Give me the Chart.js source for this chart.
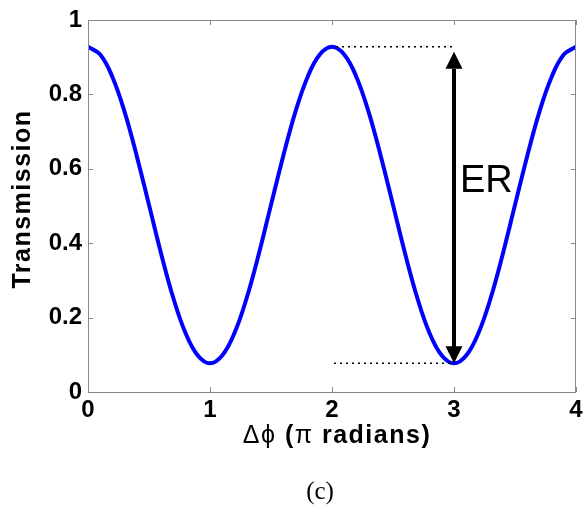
<!DOCTYPE html>
<html>
<head>
<meta charset="utf-8">
<script src="https://cdn.jsdelivr.net/npm/chart.js@4"></script>
<style>
  html, body { margin: 0; padding: 0; background: #fff; }
  #wrap { width: 585px; height: 506px; }
</style>
</head>
<body>
<div id="wrap"><canvas id="chart01" width="585" height="506"></canvas></div>
<script>
// phase difference in units of pi
const phase = [0, 0.1, 0.2, 0.3, 0.4, 0.5, 0.6, 0.7, 0.8, 0.9,
  1, 1.1, 1.2, 1.3, 1.4, 1.5, 1.6, 1.7, 1.8, 1.9,
  2, 2.1, 2.2, 2.3, 2.4, 2.5, 2.6, 2.7, 2.8, 2.9,
  3, 3.1, 3.2, 3.3, 3.4, 3.5, 3.6, 3.7, 3.8, 3.9, 4]
// transmission
const transmission = [0.928, 0.907, 0.847, 0.753, 0.634, 0.503, 0.371, 0.252, 0.158, 0.098,
  0.077, 0.098, 0.158, 0.252, 0.371, 0.503, 0.634, 0.753, 0.847, 0.907,
  0.928, 0.907, 0.847, 0.753, 0.634, 0.503, 0.371, 0.252, 0.158, 0.098,
  0.077, 0.098, 0.158, 0.252, 0.371, 0.503, 0.634, 0.753, 0.847, 0.907, 0.928]
const xTicks = [0, 1, 2, 3, 4]
const yTicks = [0, 0.2, 0.4, 0.6, 0.8, 1]
// extinction ratio marker: dotted guides from x=2 to x=3, arrow at x=3
const erFrom = 2, erAt = 3
const erMax = 0.928, erMin = 0.077

const ctx = document.getElementById('chart01').getContext('2d')
const SANS = '"Liberation Sans", Arial, sans-serif'

const boxPlugin = {
    id: 'box',
    afterDraw(chart) {
        const c = chart.ctx
        const a = chart.chartArea
        const xs = chart.scales.x, ys = chart.scales.y
        c.save()
        // frame
        c.strokeStyle = '#8a8a8a'
        c.lineWidth = 1
        c.strokeRect(a.left + 0.5, a.top + 0.5, a.right - a.left - 1, a.bottom - a.top)
        // inward ticks on all four sides
        c.beginPath()
        for (const t of xTicks) {
            const px = Math.round(xs.getPixelForValue(t)) + 0.5
            c.moveTo(px, a.bottom); c.lineTo(px, a.bottom - 5)
            c.moveTo(px, a.top); c.lineTo(px, a.top + 5)
        }
        for (const t of yTicks) {
            const py = Math.round(ys.getPixelForValue(t)) + 0.5
            c.moveTo(a.left, py); c.lineTo(a.left + 5, py)
            c.moveTo(a.right, py); c.lineTo(a.right - 5, py)
        }
        c.stroke()

        // dotted guides
        const x0 = xs.getPixelForValue(erFrom)
        const x1 = xs.getPixelForValue(erAt)
        const yTop = ys.getPixelForValue(erMax)
        const yBot = ys.getPixelForValue(erMin)
        c.strokeStyle = '#000'
        c.lineWidth = 1.5
        c.setLineDash([2, 4])
        c.beginPath()
        c.moveTo(x0 + 4, yTop); c.lineTo(x1, yTop)
        c.moveTo(x0 + 2, yBot); c.lineTo(x1, yBot)
        c.stroke()
        c.setLineDash([])

        // double arrow
        const head = 17, half = 8.5
        c.fillStyle = '#000'
        c.lineWidth = 4
        c.beginPath()
        c.moveTo(x1, yTop + 6 + head - 1)
        c.lineTo(x1, yBot - head + 1)
        c.stroke()
        c.beginPath()
        c.moveTo(x1, yTop + 5)
        c.lineTo(x1 - half, yTop + 5 + head)
        c.lineTo(x1 + half, yTop + 5 + head)
        c.closePath()
        c.fill()
        c.beginPath()
        c.moveTo(x1, yBot)
        c.lineTo(x1 - half, yBot - head)
        c.lineTo(x1 + half, yBot - head)
        c.closePath()
        c.fill()

        // ER label
        c.font = '38px ' + SANS
        c.textAlign = 'left'
        c.textBaseline = 'alphabetic'
        c.fillText('ER', x1 + 6, 192)

        // y axis title
        c.font = 'bold 25px ' + SANS
        c.letterSpacing = '1.5px'
        c.textAlign = 'center'
        c.textBaseline = 'middle'
        c.save()
        c.translate(23, 199)
        c.rotate(-Math.PI / 2)
        c.fillText('Transmission', 0, 0)
        c.restore()

        // x axis title: symbols regular, words bold
        const parts = [
            ['Δϕ', '25px ' + SANS],
            [' (', 'bold 25px ' + SANS],
            ['π', '25px ' + SANS],
            [' radians)', 'bold 25px ' + SANS]
        ]
        c.textAlign = 'left'
        let total = 0
        for (const [s, f] of parts) { c.font = f; total += c.measureText(s).width }
        let px = 337 - total / 2
        for (const [s, f] of parts) {
            c.font = f
            c.fillText(s, px, 436)
            px += c.measureText(s).width
        }
        c.letterSpacing = '0px'

        // panel label
        c.font = '25px "Liberation Serif", "DejaVu Serif", serif'
        c.textAlign = 'center'
        c.fillText('(c)', 320, 492)
        c.restore()
    }
}

const myChart = new Chart(ctx, {
    type: 'line',
    data: {
        labels: phase,
        datasets: [{
            data: phase.map((p, i) => ({ x: p, y: transmission[i] })),
            borderColor: '#0000ff',
            borderWidth: 4,
            pointRadius: 0,
            tension: 0.4,
            fill: false
        }]
    },
    options: {
        responsive: false,
        animation: false,
        layout: { padding: { left: 0, top: 20, right: 9, bottom: 0 } },
        plugins: { legend: { display: false }, tooltip: { enabled: false } },
        scales: {
            x: {
                type: 'linear',
                min: 0,
                max: 4,
                afterFit(scale) { scale.height = 114; scale.paddingLeft = 0; scale.paddingRight = 0 },
                afterBuildTicks(scale) { scale.ticks = xTicks.map(v => ({ value: v })) },
                grid: { display: false, drawTicks: false },
                border: { display: false },
                ticks: {
                    padding: 4,
                    color: '#000',
                    maxRotation: 0,
                    font: { family: SANS, size: 24, weight: 'bold' }
                }
            },
            y: {
                min: 0,
                max: 1,
                afterFit(scale) { scale.width = 88; scale.paddingTop = 0; scale.paddingBottom = 0 },
                afterBuildTicks(scale) { scale.ticks = yTicks.map(v => ({ value: v })) },
                grid: { display: false, drawTicks: false },
                border: { display: false },
                ticks: {
                    padding: 6,
                    color: '#000',
                    font: { family: SANS, size: 24, weight: 'bold' },
                    callback: v => String(v)
                }
            }
        }
    },
    plugins: [boxPlugin]
});
</script>
</body>
</html>
